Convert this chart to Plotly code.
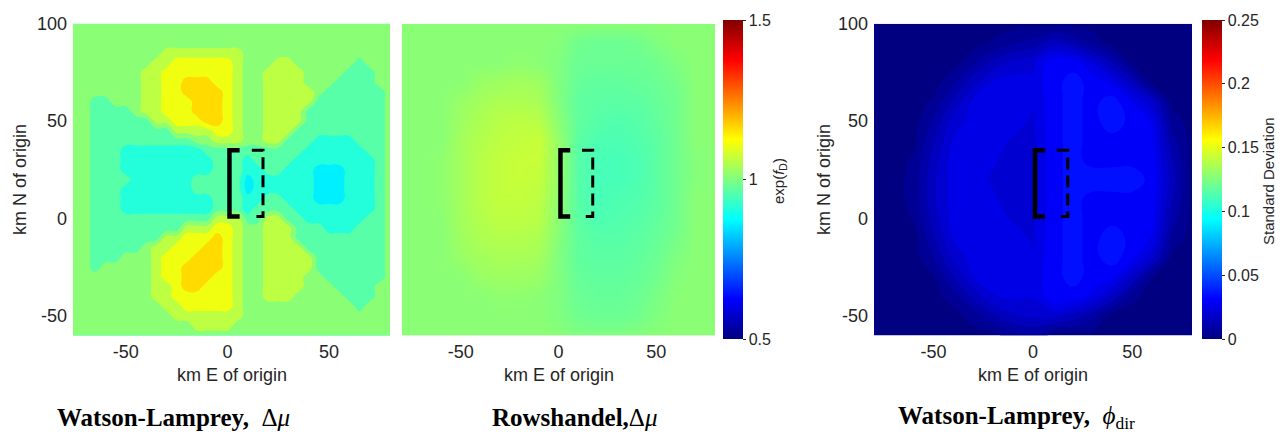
import plotly.graph_objects as go

# ---------------- data ----------------
# 5 km grid for the Watson-Lamprey delta-mu panel (contour bands)
X5 = [-80, -75, -70, -65, -60, -55, -50, -45, -40, -35, -30, -25, -20, -15, -10, -5, 0,
      5, 10, 15, 20, 25, 30, 35, 40, 45, 50, 55, 60, 65, 70, 75, 80]
Y5 = [100, 95, 90, 85, 80, 75, 70, 65, 60, 55, 50, 45, 40, 35, 30, 25, 20, 15, 10, 5, 0,
      -5, -10, -15, -20, -25, -30, -35, -40, -45, -50, -55, -60]
# band value of each letter (exp(f_D))
WL_LEVELS = {"a": 0.86, "b": 0.91, "c": 0.96, "d": 1.01, "e": 1.06, "f": 1.11, "g": 1.16}
# one string per row, top (y=100) to bottom (y=-60), one letter per column of X5
WL_MU_ROWS = [
    "ddddddddddddddddddddddddddddddddd",
    "ddddddddddddddddddddddddddddddddd",
    "ddddddddddddddddddddddddddddddddd",
    "dddddddddd eeeeeeee ddddddddddddddd",
    "ddddddddd eeffffffe ddd ee dddddd c ddd",
    "dddddddd eefffffffe dd eeee dddd ccc dd",
    "dddddddd eeffgggffe dd eeee ddd cccc dd",
    "dddddddd eeffggggfe dd eeeee d cccccc d",
    "ddd cc ddd eefffgggfe dd eeeee ccccccc d",
    "ddd cccc d eefffgggfe dd eeee cccccccc d",
    "ddd cccccc eefffggfe dd eeee cccccccc d",
    "ddd cccccccc eeeeffe dd eee ccccccccc d",
    "ddd cccccccccc dd eee dd ee ccc bbbb ccc d",
    "ddd ccc bbbbbbbb cccccccccc bbbbbb cc d",
    "ddd ccc bbbbbbbbb ccc b cccc bbbbbbbb c d",
    "ddd ccc bbbbbbbbb ccc bb cc bbb aaa bbb c d",
    "ddd cccc bbbbbb ccccc a bbbbbb aaa bbb c d",
    "ddd ccc bbbbbbb ccccc a bbbbbb aaa bbb c d",
    "ddd ccc bbbbbbbbb ccc bb cc bbb aaa bbb c d",
    "ddd ccc bbbbbbbbb ccc b cccc bbbbbbbb c d",
    "ddd cccccccccccc eee cc ee cc bbbbbb cc d",
    "ddd ccccccccc eeeffe dd eee ccc bbb ccc d",
    "ddd ccccccc eefffgfe dd eee ccccccccc d",
    "ddd ccccc d eefffggfe dd eeee cccccccc d",
    "ddd ccc ddd efffgggfe dd eeeee ccccccc d",
    "ddd c ddddd effggggfe dd eeeee ccccccc d",
    "ddddddddd effgggffe dd eeee dd cccccc d",
    "ddddddddd eefggfffe dd eeee ddd cccc dd",
    "ddddddddd eeffffffe dd eee ddddd ccc dd",
    "dddddddddd eefffffe ddddddddddd c ddd",
    "ddddddddddd eeeeeee ddddddddddddddd",
    "ddddddddddddd eeee dddddddddddddddd",
    "ddddddddddddddddddddddddddddddddd",
]

# 10 km grid for the other two panels
X10 = [-80, -70, -60, -50, -40, -30, -20, -10, 0, 10, 20, 30, 40, 50, 60, 70, 80]
Y10 = [100, 90, 80, 70, 60, 50, 40, 30, 20, 10, 0, -10, -20, -30, -40, -50, -60]

# Rowshandel delta-mu, exp(f_D), rows top to bottom
RS_MU = [
    [1.01, 1.01, 1.01, 1.01, 1.01, 1.01, 1.01, 1.01, 1.01, 1.01, 1.01, 1.01, 1.01, 1.01, 1.01, 1.01, 1.01],
    [1.01, 1.01, 1.01, 1.01, 1.01, 1.01, 1.01, 1.01, 1.005, 0.985, 0.98, 0.98, 0.985, 1.00, 1.01, 1.01, 1.01],
    [1.01, 1.01, 1.01, 1.01, 1.01, 1.01, 1.015, 1.01, 1.00, 0.98, 0.98, 0.98, 0.98, 0.985, 1.00, 1.01, 1.01],
    [1.01, 1.01, 1.01, 1.01, 1.025, 1.03, 1.035, 1.03, 1.00, 0.975, 0.97, 0.97, 0.975, 0.98, 0.99, 1.01, 1.01],
    [1.01, 1.01, 1.01, 1.025, 1.035, 1.045, 1.045, 1.04, 1.00, 0.97, 0.965, 0.965, 0.965, 0.975, 0.985, 1.01, 1.01],
    [1.01, 1.01, 1.01, 1.03, 1.045, 1.055, 1.06, 1.055, 1.01, 0.97, 0.96, 0.955, 0.96, 0.97, 0.985, 1.01, 1.01],
    [1.01, 1.01, 1.01, 1.035, 1.05, 1.06, 1.065, 1.07, 1.02, 0.965, 0.95, 0.95, 0.955, 0.965, 0.985, 1.01, 1.01],
    [1.01, 1.01, 1.015, 1.035, 1.055, 1.065, 1.07, 1.07, 1.02, 0.96, 0.945, 0.945, 0.95, 0.965, 0.985, 1.005, 1.01],
    [1.01, 1.01, 1.015, 1.035, 1.055, 1.065, 1.07, 1.065, 1.02, 0.96, 0.945, 0.945, 0.95, 0.965, 0.985, 1.005, 1.01],
    [1.01, 1.01, 1.015, 1.035, 1.055, 1.065, 1.065, 1.06, 1.015, 0.96, 0.945, 0.95, 0.955, 0.965, 0.985, 1.01, 1.01],
    [1.01, 1.01, 1.01, 1.035, 1.05, 1.06, 1.06, 1.055, 1.01, 0.965, 0.95, 0.955, 0.96, 0.97, 0.985, 1.01, 1.01],
    [1.01, 1.01, 1.01, 1.03, 1.045, 1.05, 1.05, 1.045, 1.005, 0.97, 0.96, 0.96, 0.965, 0.975, 0.99, 1.01, 1.01],
    [1.01, 1.01, 1.01, 1.025, 1.035, 1.04, 1.04, 1.035, 1.00, 0.97, 0.965, 0.965, 0.97, 0.98, 1.00, 1.01, 1.01],
    [1.01, 1.01, 1.01, 1.01, 1.025, 1.03, 1.03, 1.025, 1.00, 0.975, 0.97, 0.97, 0.975, 0.985, 1.005, 1.01, 1.01],
    [1.01, 1.01, 1.01, 1.01, 1.01, 1.015, 1.015, 1.01, 1.00, 0.98, 0.975, 0.975, 0.98, 0.995, 1.01, 1.01, 1.01],
    [1.01, 1.01, 1.01, 1.01, 1.01, 1.01, 1.01, 1.01, 1.00, 0.985, 0.98, 0.98, 0.985, 1.00, 1.01, 1.01, 1.01],
    [1.01, 1.01, 1.01, 1.01, 1.01, 1.01, 1.01, 1.01, 1.01, 1.00, 1.00, 1.00, 1.005, 1.01, 1.01, 1.01, 1.01],
]

# Watson-Lamprey phi_dir standard deviation, rows top to bottom
WL_PHI = [
    [0.0003, 0.0003, 0.0003, 0.0003, 0.0003, 0.0003, 0.0003, 0.0003, 0.0003, 0.0003, 0.0003, 0.0003, 0.0003, 0.0003, 0.0003, 0.0003, 0.0003],
    [0.0003, 0.0003, 0.0003, 0.0003, 0.0003, 0.0003, 0.0031, 0.0074, 0.0093, 0.0159, 0.012, 0.0056, 0.0003, 0.0003, 0.0003, 0.0003, 0.0003],
    [0.0003, 0.0003, 0.0003, 0.0003, 0.0003, 0.0069, 0.0139, 0.019, 0.0213, 0.031, 0.031, 0.0225, 0.0128, 0.0012, 0.0003, 0.0003, 0.0003],
    [0.0003, 0.0003, 0.0003, 0.0003, 0.0067, 0.0159, 0.023, 0.025, 0.024, 0.031, 0.034, 0.031, 0.026, 0.0149, 0.0005, 0.0003, 0.0003],
    [0.0003, 0.0003, 0.0003, 0.0033, 0.0139, 0.0235, 0.025, 0.025, 0.023, 0.031, 0.034, 0.031, 0.035, 0.027, 0.018, 0.001, 0.0003],
    [0.0003, 0.0003, 0.0003, 0.0085, 0.0197, 0.025, 0.025, 0.024, 0.022, 0.031, 0.034, 0.031, 0.035, 0.031, 0.027, 0.005, 0.0003],
    [0.0003, 0.0003, 0.0009, 0.0125, 0.023, 0.025, 0.024, 0.022, 0.021, 0.031, 0.034, 0.031, 0.031, 0.031, 0.029, 0.0096, 0.0003],
    [0.0003, 0.0003, 0.0033, 0.0152, 0.025, 0.025, 0.023, 0.021, 0.020, 0.031, 0.034, 0.031, 0.031, 0.031, 0.030, 0.0134, 0.0003],
    [0.0003, 0.0003, 0.0044, 0.0164, 0.025, 0.024, 0.022, 0.021, 0.020, 0.031, 0.034, 0.035, 0.035, 0.035, 0.031, 0.0149, 0.0003],
    [0.0003, 0.0003, 0.0043, 0.0163, 0.025, 0.025, 0.023, 0.021, 0.020, 0.031, 0.034, 0.031, 0.031, 0.031, 0.030, 0.0134, 0.0003],
    [0.0003, 0.0003, 0.0029, 0.0147, 0.025, 0.025, 0.024, 0.022, 0.021, 0.031, 0.034, 0.031, 0.031, 0.031, 0.029, 0.0103, 0.0003],
    [0.0003, 0.0003, 0.0003, 0.0118, 0.023, 0.025, 0.025, 0.024, 0.022, 0.031, 0.034, 0.031, 0.035, 0.031, 0.027, 0.006, 0.0003],
    [0.0003, 0.0003, 0.0003, 0.0075, 0.0187, 0.025, 0.025, 0.025, 0.023, 0.031, 0.034, 0.031, 0.035, 0.029, 0.019, 0.001, 0.0003],
    [0.0003, 0.0003, 0.0003, 0.0021, 0.0125, 0.0225, 0.025, 0.025, 0.024, 0.031, 0.034, 0.031, 0.029, 0.0174, 0.0027, 0.0003, 0.0003],
    [0.0003, 0.0003, 0.0003, 0.0003, 0.0053, 0.0142, 0.022, 0.024, 0.023, 0.031, 0.031, 0.026, 0.016, 0.0039, 0.0003, 0.0003, 0.0003],
    [0.0003, 0.0003, 0.0003, 0.0003, 0.0003, 0.0049, 0.0117, 0.0166, 0.0189, 0.0197, 0.0157, 0.009, 0.0003, 0.0003, 0.0003, 0.0003, 0.0003],
    [0.0003, 0.0003, 0.0003, 0.0003, 0.0003, 0.0003, 0.0009, 0.0051, 0.0069, 0.0007, 0.0003, 0.0003, 0.0003, 0.0003, 0.0003, 0.0003, 0.0003],
]

# fault trace brackets (km)
FAULT_TOP_X = [6, 1, 1, 6]
FAULT_TOP_Y = [35, 35, 1, 1]
FAULT_BOT_X = [12, 17.5, 17.5, 12]
FAULT_BOT_Y = [35, 35, 1, 1]

X_TICKS = [-50, 0, 50]
X_TICKTEXT = ["-50", "0", "50"]
Y_TICKS = [-50, 0, 50, 100]
Y_TICKTEXT = ["-50", "0", "50", "100"]
MU_TICKS = [0.5, 1, 1.5]
MU_TICKTEXT = ["0.5", "1", "1.5"]
SD_TICKS = [0, 0.05, 0.1, 0.15, 0.2, 0.25]
SD_TICKTEXT = ["0", "0.05", "0.1", "0.15", "0.2", "0.25"]

CAPTIONS = [
    "<b>Watson-Lamprey,</b>\u00a0\u00a0\u0394<i>\u03bc</i>",
    "<b>Rowshandel,</b>\u0394<i>\u03bc</i>",
    "<b>Watson-Lamprey,</b>\u00a0\u00a0<i>\u03d5</i><sub>dir</sub>",
]

# ---------------- styling ----------------
W, H = 1288, 438
GRAY = "#262626"
SANS = "Liberation Sans, Arial, sans-serif"
SERIF = "Liberation Serif, Times New Roman, serif"


def jet_rgb(t):
    t = max(0.0, min(1.0, t))
    def c(v):
        return int(round(255 * max(0.0, min(1.0, v))))
    r = min(4 * t - 1.5, -4 * t + 4.5)
    g = min(4 * t - 0.5, -4 * t + 3.5)
    b = min(4 * t + 0.5, -4 * t + 2.5)
    return "rgb(%d,%d,%d)" % (c(r), c(g), c(b))


JET = [[0, "rgb(0,0,128)"], [0.125, "rgb(0,0,255)"], [0.375, "rgb(0,255,255)"],
       [0.625, "rgb(255,255,0)"], [0.875, "rgb(255,0,0)"], [1, "rgb(128,0,0)"]]

band_vals = sorted(WL_LEVELS.values())
nb = len(band_vals) - 1
wl_scale = [[k / nb, jet_rgb(v - 0.5)] for k, v in enumerate(band_vals)]
half = (band_vals[1] - band_vals[0]) / 2

z1 = [[WL_LEVELS[ch] for ch in row.replace(" ", "")] for row in WL_MU_ROWS]


def px_x(p):
    return p / W


def px_y(p):
    return 1 - p / H


fig = go.Figure()

# panel 1: contour bands
fig.add_trace(go.Contour(
    x=X5, y=Y5[::-1], z=z1[::-1], xaxis="x", yaxis="y",
    colorscale=wl_scale, showscale=False, hoverinfo="skip",
    contours=dict(coloring="fill", showlines=False,
                  start=band_vals[0] + half, end=band_vals[-2] + half, size=2 * half),
    line=dict(width=0, smoothing=1.3),
))

cbar_common = dict(xanchor="left", xpad=0, ypad=0, y=px_y(173.5), yanchor="middle",
                   len=319, lenmode="pixels", thickness=20, outlinewidth=0,
                   ticks="outside", ticklen=3, tickcolor=GRAY,
                   tickfont=dict(size=16, color=GRAY, family=SANS))

# panel 2: smooth field
fig.add_trace(go.Heatmap(
    x=X10, y=Y10[::-1], z=RS_MU[::-1], xaxis="x2", yaxis="y2",
    colorscale=JET, zmin=0.5, zmax=1.5, zsmooth="best", hoverinfo="skip",
    colorbar=dict(cbar_common, x=px_x(723), tickvals=MU_TICKS, ticktext=MU_TICKTEXT),
))

# panel 3: contour bands of standard deviation
fig.add_trace(go.Contour(
    x=X10, y=Y10[::-1], z=WL_PHI[::-1], xaxis="x3", yaxis="y3",
    colorscale=JET, showscale=False, hoverinfo="skip",
    contours=dict(coloring="fill", showlines=False, start=0.0025, end=0.2475, size=0.005),
    line=dict(width=0, smoothing=1.3),
))
# colour bar carrier for panel 3 (placed outside the visible range)
fig.add_trace(go.Heatmap(
    z=[[SD_TICKS[0], SD_TICKS[-1]]], x=[900, 910], y=[900], xaxis="x3", yaxis="y3",
    colorscale=JET, zmin=SD_TICKS[0], zmax=SD_TICKS[-1], hoverinfo="skip",
    colorbar=dict(cbar_common, x=px_x(1202), tickvals=SD_TICKS, ticktext=SD_TICKTEXT),
))

# fault brackets
for xa, ya in [("x", "y"), ("x2", "y2"), ("x3", "y3")]:
    fig.add_trace(go.Scatter(x=FAULT_TOP_X, y=FAULT_TOP_Y, xaxis=xa, yaxis=ya, mode="lines",
                             line=dict(color="black", width=4.5), hoverinfo="skip"))
    fig.add_trace(go.Scatter(x=FAULT_BOT_X, y=FAULT_BOT_Y, xaxis=xa, yaxis=ya, mode="lines",
                             line=dict(color="black", width=3, dash="12px,6px"), hoverinfo="skip"))

ydom = [px_y(333), px_y(14)]
xcommon = dict(showgrid=False, zeroline=False, showline=False, ticks="",
               tickvals=X_TICKS, ticktext=X_TICKTEXT,
               tickfont=dict(size=18, color=GRAY, family=SANS), ticklabelstandoff=4,
               fixedrange=True)
ycommon = dict(showgrid=False, zeroline=False, showline=False, ticks="",
               tickvals=Y_TICKS, ticktext=Y_TICKTEXT,
               tickfont=dict(size=18, color=GRAY, family=SANS), ticklabelstandoff=5,
               range=[-60, 100], domain=ydom, fixedrange=True)

fig.update_layout(
    width=W, height=H, margin=dict(l=0, r=0, t=0, b=0),
    paper_bgcolor="white", plot_bgcolor="white", showlegend=False,
    xaxis=dict(xcommon, domain=[px_x(73), px_x(390)], range=[-76, 80]),
    xaxis2=dict(xcommon, domain=[px_x(402), px_x(715)], range=[-80, 80]),
    xaxis3=dict(xcommon, domain=[px_x(874), px_x(1192)], range=[-80, 80]),
    yaxis=dict(ycommon, anchor="x"),
    yaxis2=dict(ycommon, anchor="x2", showticklabels=False),
    yaxis3=dict(ycommon, anchor="x3"),
)

ann = []
axfont = dict(size=18, color=GRAY, family=SANS)
for xc in (231.5, 558.5, 1033):
    ann.append(dict(text="km E of origin", x=px_x(xc), y=px_y(374), xref="paper", yref="paper",
                    showarrow=False, font=axfont, xanchor="center", yanchor="middle"))
for xc in (20, 824):
    ann.append(dict(text="km N of origin", x=px_x(xc), y=px_y(174), xref="paper", yref="paper",
                    showarrow=False, font=axfont, textangle=-90, xanchor="center", yanchor="middle"))
ann.append(dict(text="exp(<i>f</i><sub>D</sub>)", x=px_x(779), y=px_y(175), xref="paper", yref="paper",
                showarrow=False, font=dict(size=15, color=GRAY, family=SANS), textangle=-90,
                xanchor="center", yanchor="middle"))
ann.append(dict(text="Standard Deviation", x=px_x(1268), y=px_y(175), xref="paper", yref="paper",
                showarrow=False, font=dict(size=15, color=GRAY, family=SANS), textangle=-90,
                xanchor="center", yanchor="middle"))
for txt, xl in zip(CAPTIONS, (55, 490, 896)):
    ann.append(dict(text=txt, x=px_x(xl), y=px_y(417), xref="paper", yref="paper",
                    showarrow=False, font=dict(size=25, color="black", family=SERIF),
                    xanchor="left", yanchor="middle"))
fig.update_layout(annotations=ann)

fig.write_html("out.html")
